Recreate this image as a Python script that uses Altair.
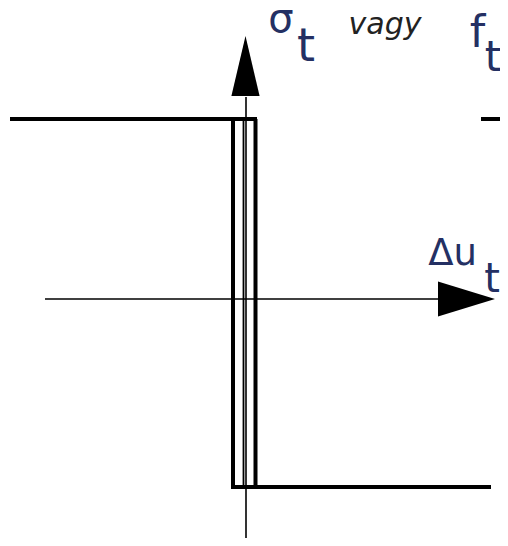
import altair as alt
import pandas as pd

# Diagram coordinates: slip du (horizontal), stress sigma_t (vertical); origin at the axis crossing
# Thick friction-law segments (start -> end)
law_u1 = [-236, -13, 9.5, -15, 235]
law_s1 = [180, 180, 180, -188, 180]
law_u2 = [11, -13, 9.5, 245, 262]
law_s2 = [180, -188, -188, -188, 180]

# Thin inner line of the jump
inner_u1 = [-2.5]
inner_s1 = [180]
inner_u2 = [-2.5]
inner_s2 = [-188]

# Axes (without arrow heads)
axis_u1 = [0, -201]
axis_s1 = [202, 0]
axis_u2 = [0, 194]
axis_s2 = [-247, 0]

# Arrow heads
arrow_u = [-0.5, 220.5]
arrow_s = [233, 0]
arrow_shape = ["M0,-1L0.47,1L-0.47,1Z", "M1,0L-1,-0.61L-1,0.61Z"]
arrow_size = [3600, 3249]

# Labels
lab_text = ["σ", "t", "f", "t", "Δu", "t"]
lab_u = [35, 60, 231.5, 247, 206.5, 246]
lab_s = [267, 238, 252, 228, 34, 7]
lab_fs = [40, 46, 44, 42, 37, 40]

vagy_text = ["vagy"]
vagy_u = [139]
vagy_s = [265]

XD = [-238, 254]
YD = [-239, 291]

def xs(f):
    return alt.X(f, type="quantitative", scale=alt.Scale(domain=XD, nice=False, zero=False), axis=None)

def ys(f):
    return alt.Y(f, type="quantitative", scale=alt.Scale(domain=YD, nice=False, zero=False), axis=None)

law = pd.DataFrame({"u1": law_u1, "s1": law_s1, "u2": law_u2, "s2": law_s2})
inner = pd.DataFrame({"u1": inner_u1, "s1": inner_s1, "u2": inner_u2, "s2": inner_s2})
axes = pd.DataFrame({"u1": axis_u1, "s1": axis_s1, "u2": axis_u2, "s2": axis_s2})
arrows = pd.DataFrame({"u": arrow_u, "s": arrow_s, "shape": arrow_shape, "size": arrow_size})
labels = pd.DataFrame({"t": lab_text, "u": lab_u, "s": lab_s, "fs": lab_fs})
vagy = pd.DataFrame({"t": vagy_text, "u": vagy_u, "s": vagy_s})

def segs(df, w):
    return alt.Chart(df).mark_rule(color="black", strokeWidth=w).encode(
        x=xs("u1"), y=ys("s1"), x2="u2", y2="s2"
    )

law_layer = segs(law, 4)
inner_layer = segs(inner, 1.8)
axis_layer = segs(axes, 1.6)

arrow_layer = alt.Chart(arrows).mark_point(filled=True, color="black", opacity=1, strokeWidth=0).encode(
    x=xs("u"), y=ys("s"),
    shape=alt.Shape("shape:N", scale=None),
    size=alt.Size("size:Q", scale=None),
)

label_layer = alt.Chart(labels).mark_text(
    font="DejaVu Sans", color="#243063", align="center", baseline="alphabetic"
).encode(
    x=xs("u"), y=ys("s"), text="t:N", size=alt.Size("fs:Q", scale=None)
)

vagy_layer = alt.Chart(vagy).mark_text(
    font="DejaVu Sans", fontStyle="italic", fontSize=30, color="#222222",
    align="center", baseline="alphabetic"
).encode(x=xs("u"), y=ys("s"), text="t:N")

chart = alt.layer(
    law_layer, inner_layer, axis_layer, arrow_layer, label_layer, vagy_layer
).properties(
    width=492, height=530, padding=0, autosize=alt.AutoSizeParams(type="none"),
    background="white"
).configure_view(stroke=None)

chart.save("out.html", embed_options={"renderer": "svg", "actions": False})
